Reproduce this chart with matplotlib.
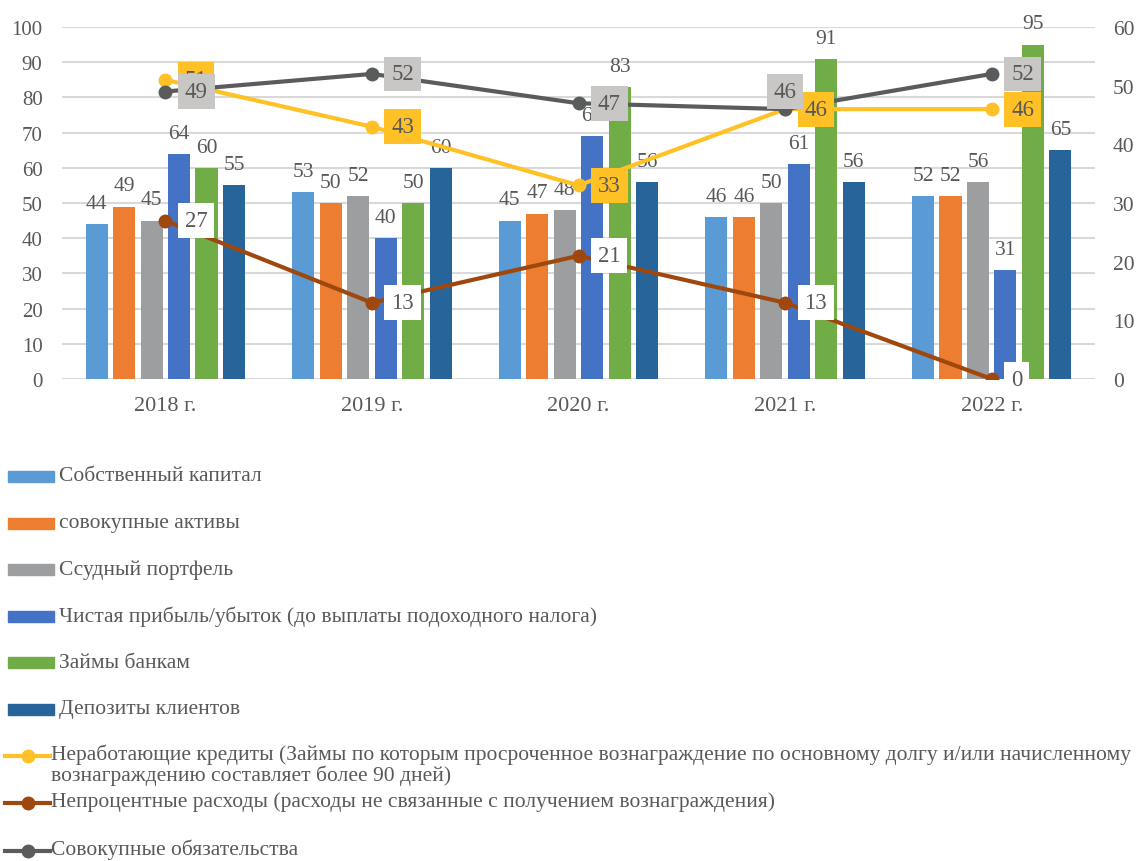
import matplotlib
matplotlib.use("Agg")
import matplotlib.pyplot as plt
import numpy as np
from matplotlib.lines import Line2D
from matplotlib.patches import Rectangle

plt.rcParams["font.family"] = ["Liberation Serif", "DejaVu Serif"]

years = ["2018 г.", "2019 г.", "2020 г.", "2021 г.", "2022 г."]

bar_names = [
    "Собственный капитал",
    "совокупные активы",
    "Ссудный портфель",
    "Чистая прибыль/убыток (до выплаты подоходного налога)",
    "Займы банкам",
    "Депозиты клиентов",
]
own_capital = [44, 53, 45, 46, 52]
total_assets = [49, 50, 47, 46, 52]
loan_portfolio = [45, 52, 48, 50, 56]
net_profit = [64, 40, 69, 61, 31]
bank_loans = [60, 50, 83, 91, 95]
client_deposits = [55, 60, 56, 56, 65]
bar_series = [own_capital, total_assets, loan_portfolio, net_profit, bank_loans, client_deposits]
bar_colors = ["#5B9BD5", "#ED7D31", "#9C9E9F", "#4472C4", "#70AD47", "#26649A"]

line_names = [
    "Неработающие кредиты (Займы по которым просроченное вознаграждение по основному долгу и/или начисленному\nвознаграждению составляет более 90 дней)",
    "Непроцентные расходы (расходы не связанные с получением вознаграждения)",
    "Совокупные обязательства",
]
npl = [51, 43, 33, 46, 46]
non_interest = [27, 13, 21, 13, 0]
total_liab = [49, 52, 47, 46, 52]
line_series = [npl, non_interest, total_liab]
line_colors = ["#FFC125", "#9E480E", "#595B5C"]
label_box = ["#FFC125", "#FFFFFF", "#C8C7C5"]

TXT = "#595959"
W, H = 1145, 862

fig = plt.figure(figsize=(W / 100, H / 100), dpi=100)
ax = fig.add_axes([62 / W, 1 - 380 / H, (1095 - 62) / W, (380 - 28) / H])
ax2 = ax.twinx()

x = np.arange(len(years))
step, width = 0.133, 0.107
for i, (vals, c) in enumerate(zip(bar_series, bar_colors)):
    bars = ax.bar(x + (i - 2.5) * step, vals, width, color=c, zorder=2)
    ax.bar_label(bars, padding=8, fontsize=15.5, color=TXT)

ax.set_xlim(-0.5, len(years) - 0.5)
ax.set_ylim(0, 100)
ax.set_yticks(range(0, 101, 10))
ax.set_xticks(x)
ax.set_xticklabels(years)
ax.grid(axis="y", color="#D9D9D9", linewidth=1.5, zorder=0)
ax.set_axisbelow(True)
for s in ax.spines.values():
    s.set_visible(False)
ax.tick_params(axis="y", length=0, pad=14, labelsize=15, labelcolor=TXT)
ax.tick_params(axis="x", length=0, pad=12, labelsize=16, labelcolor=TXT)

ax2.set_ylim(0, 60)
ax2.set_yticks(range(0, 61, 10))
for s in ax2.spines.values():
    s.set_visible(False)
ax2.tick_params(axis="y", length=0, pad=13, labelsize=15.5, labelcolor=TXT)

for k in range(len(line_series)):
    vals, c, fc = line_series[k], line_colors[k], label_box[k]
    ax2.plot(x, vals, color=c, linewidth=3, marker="o", markersize=9, zorder=3 + k)
    for j, v in enumerate(vals):
        if k == 2 and j == 3:
            off, ha, va = (0, 5), "center", "bottom"
        else:
            off, ha, va = (14, 0), "left", "center"
        ax2.annotate(str(v), (x[j], v), xytext=off, textcoords="offset points",
                     ha=ha, va=va, fontsize=16.5, color=TXT, zorder=6 + k,
                     bbox=dict(boxstyle="square,pad=0.3", fc=fc, ec="none"))

# legend, drawn by hand in figure pixels
def fx(px):
    return px / W

def fy(py):
    return 1 - py / H

bar_rows = [477, 524, 570, 617, 663, 710]
for name, c, yy in zip(bar_names, bar_colors, bar_rows):
    fig.add_artist(Rectangle((fx(8), fy(yy + 5.5)), fx(46), 11 / H, color=c,
                             transform=fig.transFigure))
    fig.text(fx(59), fy(yy), name, fontsize=15.5, color=TXT, va="center")

line_rows = [757, 804, 852]
for name, c, yy in zip(line_names, line_colors, line_rows):
    fig.add_artist(Line2D([fx(5), fx(50)], [fy(yy), fy(yy)], color=c, linewidth=3,
                          transform=fig.transFigure))
    fig.add_artist(Line2D([fx(28)], [fy(yy)], color=c, marker="o", markersize=9,
                          transform=fig.transFigure))
    fig.text(fx(51), fy(yy - 12), name, fontsize=15.5, color=TXT, va="top",
             linespacing=1.0)

fig.savefig("out.png", dpi=100)
